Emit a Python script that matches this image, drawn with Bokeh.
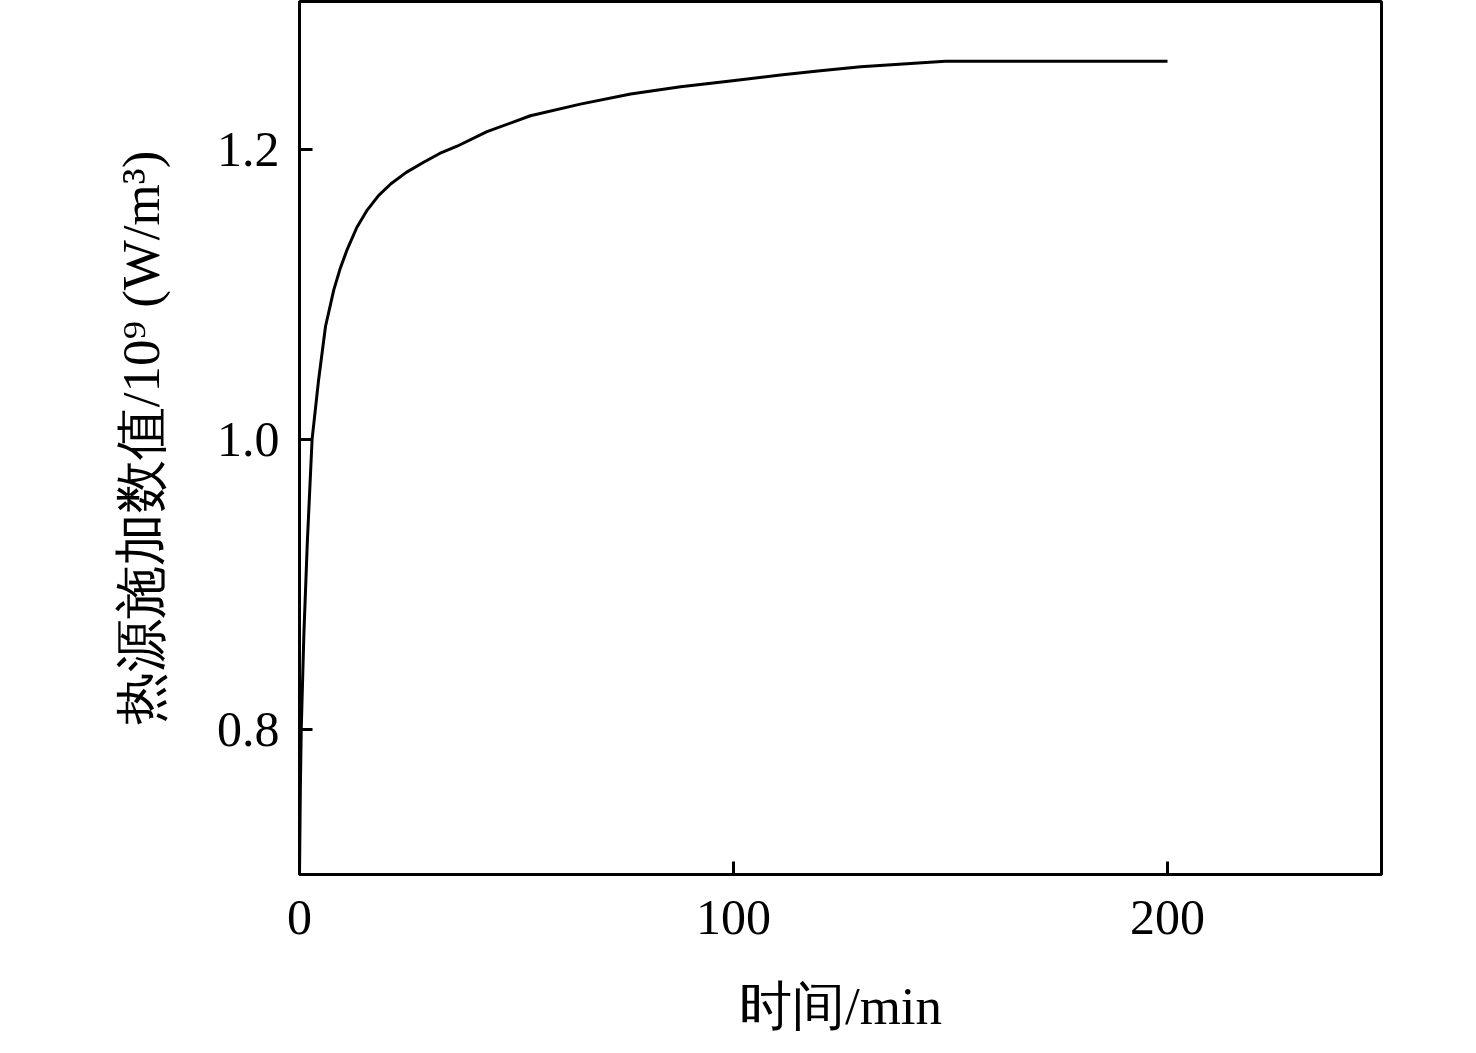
from bokeh.plotting import figure
from bokeh.models import FixedTicker, Range1d, CustomJSTickFormatter
from bokeh.embed import file_html
from bokeh.resources import INLINE

# time (min)
t = [0, 0.2, 0.4, 1.0, 1.8, 2.9, 4.4, 6.0, 7.9, 9.4, 11.0, 13.2, 15.6, 18.2, 21.0,
     24.6, 28.6, 32.3, 36.3, 43.2, 53.2, 64.7, 76.3, 87.8, 99.3, 110.8, 120.0, 129.3,
     140.8, 148.8, 200]
# heat source value / 1e9 (W/m^3)
v = [0.70, 0.76, 0.80, 0.865, 0.929, 1.0, 1.041, 1.078, 1.103, 1.118, 1.131, 1.146,
     1.158, 1.168, 1.176, 1.184, 1.191, 1.197, 1.202, 1.212, 1.223, 1.231, 1.238,
     1.243, 1.247, 1.251, 1.254, 1.2567, 1.259, 1.2605, 1.2605]

x_ticks = [0, 100, 200]
y_ticks = [0.8, 1.0, 1.2]
x_label = "时间/min"
y_label = "热源施加数值/10⁹ (W/m³)"

FONT = "Liberation Serif"

p = figure(width=1460, height=1037, output_backend="svg", toolbar_location=None,
           x_range=Range1d(0, 249.3), y_range=Range1d(0.7003, 1.3017),
           min_border_left=299, min_border_right=79, min_border_top=1,
           min_border_bottom=162)

p.line(t, v, line_color="black", line_width=3)

p.grid.visible = False
p.outline_line_color = "black"
p.outline_line_width = 3
p.background_fill_color = "white"
p.border_fill_color = "white"

for ax in (p.xaxis[0], p.yaxis[0]):
    ax.axis_line_width = 3
    ax.axis_line_color = "black"
    ax.major_tick_in = 13
    ax.major_tick_out = 0
    ax.major_tick_line_width = 3
    ax.major_tick_line_color = "black"
    ax.minor_tick_in = 0
    ax.minor_tick_out = 0
    ax.major_label_text_font = FONT
    ax.major_label_text_font_size = "50px"
    ax.major_label_text_color = "black"
    ax.axis_label_text_font = FONT
    ax.axis_label_text_font_size = "53px"
    ax.axis_label_text_font_style = "normal"
    ax.axis_label_text_color = "black"

p.xaxis.ticker = FixedTicker(ticks=x_ticks)
p.yaxis.ticker = FixedTicker(ticks=y_ticks)
p.yaxis.formatter = CustomJSTickFormatter(code="return tick.toFixed(1);")
p.xaxis.axis_label = x_label
p.yaxis.axis_label = y_label
p.xaxis.major_label_standoff = 26
p.yaxis.major_label_standoff = 20
p.xaxis.axis_label_standoff = 40
p.yaxis.axis_label_standoff = 44

open("out.html", "w").write(file_html(p, INLINE))
